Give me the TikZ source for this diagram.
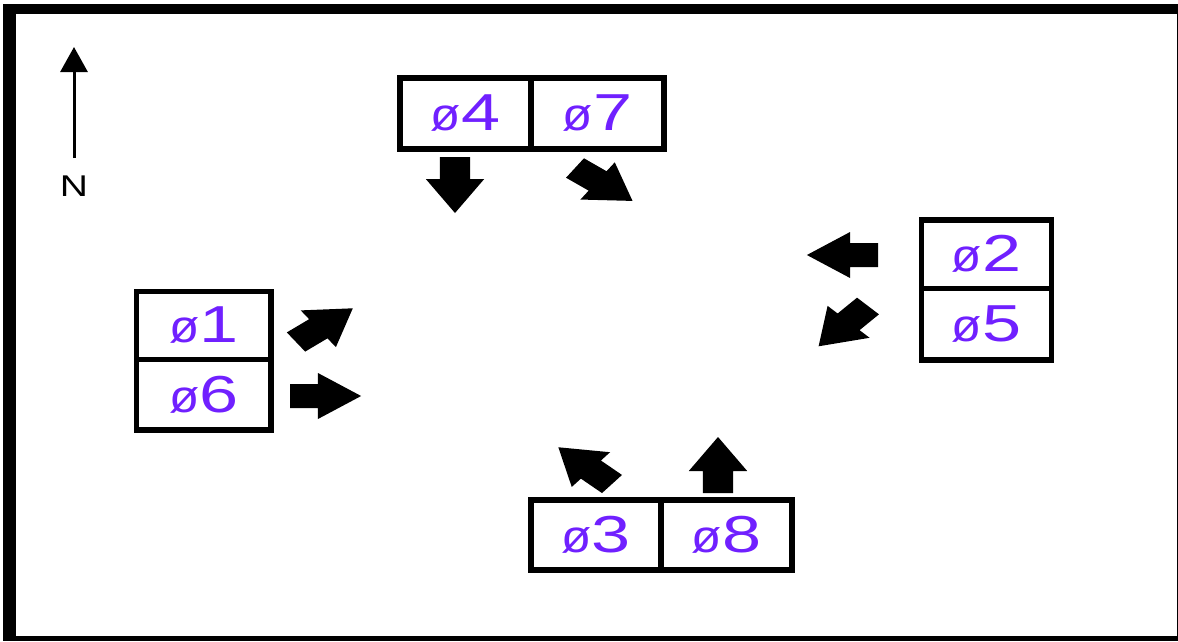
\documentclass[tikz,border=0pt]{standalone}
\usepackage{fontspec}
\setmainfont{Liberation Sans}
\usepackage{graphicx}
\usetikzlibrary{arrows.meta}
\definecolor{phase}{RGB}{112,32,255}
\tikzset{
  cell/.style={draw=black, line width=5.5pt, inner sep=0pt, text=phase,
    font=\fontsize{52}{52}\selectfont},
  barrow/.pic={\fill[black] (0,-12) -- (22,-12) -- (22,-23) -- (56,0) -- (22,23) -- (22,12) -- (0,12) -- cycle;},
  northline/.style={line width=3pt, -{Triangle[width=27pt,length=25pt]}},
}
\newcommand{\ph}[1]{\scalebox{0.95}[0.88]{ø}\scalebox{1.35}[1]{#1}}
\begin{document}
\begin{tikzpicture}[x=1pt,y=1pt]
\useasboundingbox (0,0) rectangle (1178,-641);
% frame
\fill[black] (3,-4) rectangle (1178,-641);
\fill[white] (16,-14) rectangle (1176.5,-636);
% north arrow
\node[font=\fontsize{30}{30}\selectfont, inner sep=0pt] (n) at (74,-186) {\scalebox{1.3}[1]{N}};
\coordinate (ntail) at (74,-158);
\coordinate (ntip) at (74,-47);
\draw[northline] (ntail) -- (ntip);
% top group
\node[cell, minimum width=131pt, minimum height=71pt] (c4) at (465.5,-113.5) {\ph4};
\node[cell, minimum width=133pt, minimum height=71pt] (c7) at (597.5,-113.5) {\ph7};
% left group
\node[cell, minimum width=134.5pt, minimum height=68pt] (c1) at (203.75,-325.5) {\ph1};
\node[cell, minimum width=134.5pt, minimum height=70.5pt] (c6) at (203.75,-394.75) {\ph6};
% right group
\node[cell, minimum width=130pt, minimum height=68.5pt] (c2) at (986.5,-254.25) {\ph2};
\node[cell, minimum width=130pt, minimum height=71.5pt] (c5) at (986.5,-324.25) {\ph5};
% bottom group
\node[cell, minimum width=130pt, minimum height=70pt] (c3) at (596,-535) {\ph3};
\node[cell, minimum width=131pt, minimum height=70pt] (c8) at (726.5,-535) {\ph8};
% block arrows
\pic[shift={(455,-157)}, xscale=1.27, rotate=-90] (a4) at (0,0) {barrow};
\pic[shift={(575,-168)}, xscale=1.27, rotate=-36] (a7) at (0,0) {barrow};
\pic[shift={(296,-342)}, xscale=1.27, rotate=37] (a1) at (0,0) {barrow};
\pic[shift={(290,-396)}, xscale=1.27, rotate=0] (a6) at (0,0) {barrow};
\pic[shift={(878,-255)}, xscale=1.27, rotate=180] (a2) at (0,0) {barrow};
\pic[shift={(868,-306)}, xscale=1.27, rotate=-134] (a5) at (0,0) {barrow};
\pic[shift={(612,-484)}, xscale=1.27, rotate=139] (a3) at (0,0) {barrow};
\pic[shift={(718,-493)}, xscale=1.27, rotate=90] (a8) at (0,0) {barrow};
\end{tikzpicture}
\end{document}
